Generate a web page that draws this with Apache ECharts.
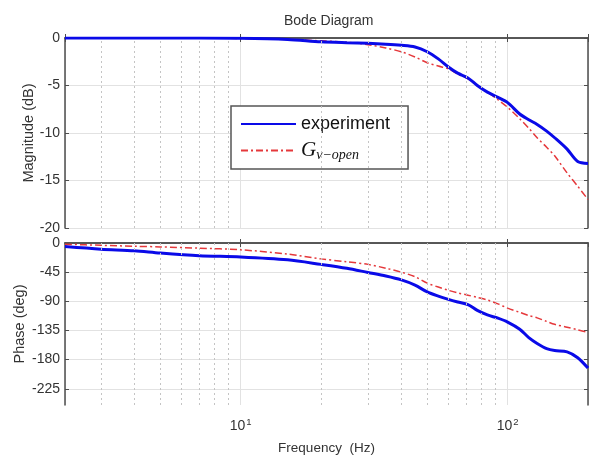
<!DOCTYPE html>
<html>
<head>
<meta charset="utf-8">
<script src="https://cdn.jsdelivr.net/npm/echarts@6/dist/echarts.min.js"></script>
<style>html,body{margin:0;padding:0;background:#fff}#c{width:590px;height:456px}</style>
</head>
<body>
<div id="c"></div>
<script>
// ---- data ----
const freq = [2.2, 3, 4, 5, 7, 10, 15, 20, 25, 30, 35, 40, 45, 50, 55, 60, 65, 71, 77, 84, 92, 100, 111, 120, 129, 140, 150, 167, 183, 200];
const magExperiment = [0, 0, 0, 0, 0, -0.02, -0.15, -0.4, -0.5, -0.56, -0.65, -0.77, -0.95, -1.45, -2.2, -3.05, -3.7, -4.2, -5.0, -5.7, -6.25, -6.8, -8.0, -8.6, -9.1, -9.8, -10.5, -11.7, -13.0, -13.2];
const magModel = [0, 0, 0, 0, 0, -0.05, -0.15, -0.3, -0.45, -0.7, -1.05, -1.45, -2.0, -2.6, -2.95, -3.25, -3.8, -4.3, -5.0, -5.7, -6.5, -7.3, -8.5, -9.5, -10.5, -11.5, -12.4, -14.2, -15.6, -17.0];
const phaseExperiment = [-5.5, -9.5, -12, -15.5, -19.5, -21.5, -26, -33, -39, -45.5, -51, -57, -65, -75.5, -82, -87, -91, -95, -104, -111, -116, -122, -133, -146, -155, -163, -166, -168, -177, -193];
const phaseModel = [-2, -3.5, -5, -6, -8, -10.5, -17, -24.5, -29, -33, -39, -45, -52, -62, -68, -73, -77, -80.5, -84, -88, -94, -100.5, -107, -112, -115.5, -121, -125.5, -130, -134, -138];
const minorFreqs = [3, 4, 5, 6, 7, 8, 9, 20, 30, 40, 50, 60, 70, 80, 90];
const magTicks = [0, -5, -10, -15, -20];
const phaseTicks = [0, -45, -90, -135, -180, -225];
const seriesNames = ['experiment', 'Gv-open'];

const pair = (xs, ys) => xs.map((x, i) => [x, ys[i]]);
const AX = '#4d4d4d', GRID = '#e2e2e2', TXT = '#333';
const BLUE = '#0a0ae8', RED = '#e5383b';
const font = 'Liberation Sans, Arial, sans-serif';

function xAx(grid, pos, labels) {
  return {
    type: 'log', logBase: 10, min: 2.2, max: 200, gridIndex: grid, position: pos,
    axisLine: { show: true, lineStyle: { color: AX, width: 1.5 } },
    axisTick: { show: true, inside: true, length: 4, lineStyle: { color: AX } },
    splitLine: { show: pos === 'bottom', lineStyle: { color: GRID, width: 1 } },
    axisLabel: labels ? {
      show: true, showMinLabel: false, showMaxLabel: false, margin: 12,
      formatter: v => { const e = Math.log10(v); return Math.abs(e - Math.round(e)) < 1e-6 ? '{b|10}{s|' + Math.round(e) + '}' : ''; },
      rich: { b: { fontSize: 14, color: TXT, fontFamily: font }, s: { fontSize: 9.5, color: TXT, fontFamily: font, padding: [0, 0, 8, 1] } }
    } : { show: false },
    name: labels ? 'Frequency  (Hz)' : '', nameLocation: 'middle', nameGap: 36,
    nameTextStyle: { fontSize: 13.5, color: TXT, fontFamily: font }
  };
}
function markMinor() {
  return {
    silent: true, symbol: 'none', animation: false,
    label: { show: false },
    lineStyle: { type: [2, 3], color: '#c4c4c4', width: 1 },
    data: minorFreqs.map(f => ({ xAxis: f }))
  };
}

const option = {
  animation: false,
  backgroundColor: '#fff',
  title: { text: 'Bode Diagram', left: 279, top: 9, textStyle: { fontSize: 14, fontWeight: 'normal', color: TXT, fontFamily: font } },
  legend: {
    orient: 'vertical', left: 231, top: 106, padding: [9, 18, 7, 9], itemGap: 7,
    itemWidth: 55, itemHeight: 14,
    backgroundColor: '#fff', borderColor: '#555', borderWidth: 1.5, borderRadius: 0,
    itemStyle: { color: 'transparent', borderColor: 'transparent', borderWidth: 0, opacity: 0 },
    data: seriesNames,
    formatter: n => n === 'Gv-open' ? '{g|G}{s|v\u2212open}' : '{e|' + n + '}',
    textStyle: {
      rich: {
        e: { fontSize: 18, color: '#111', fontFamily: font, lineHeight: 22 },
        g: { fontSize: 21, fontStyle: 'italic', color: '#111', fontFamily: 'Liberation Serif, serif', lineHeight: 22 },
        s: { fontSize: 14, fontStyle: 'italic', color: '#111', fontFamily: 'Liberation Serif, serif', padding: [9, 0, 0, 0] }
      }
    }
  },
  grid: [
    { left: 65, right: 2, top: 38, height: 190 },
    { left: 65, right: 2, top: 243, height: 166 }
  ],
  xAxis: [xAx(0, 'bottom', false), xAx(0, 'top', false), xAx(1, 'bottom', true), xAx(1, 'top', false)],
  yAxis: [
    {
      type: 'value', gridIndex: 0, min: -20, max: 0, interval: 5, position: 'left',
      axisLine: { show: true, lineStyle: { color: AX, width: 1.5 } },
      axisTick: { show: true, inside: true, length: 4, lineStyle: { color: AX } },
      splitLine: { show: true, lineStyle: { color: GRID } },
      axisLabel: { fontSize: 14, color: TXT, fontFamily: font, margin: 5 },
      name: 'Magnitude (dB)', nameLocation: 'middle', nameGap: 29, nameRotate: 90, nameMoveOverlap: false,
      nameTextStyle: { fontSize: 14.5, color: TXT, fontFamily: font }
    },
    {
      type: 'value', gridIndex: 0, min: -20, max: 0, interval: 5, position: 'right',
      axisLine: { show: true, lineStyle: { color: AX, width: 1.5 } },
      axisTick: { show: true, inside: true, length: 4, lineStyle: { color: AX } },
      splitLine: { show: false }, axisLabel: { show: false }
    },
    {
      type: 'value', gridIndex: 1, min: -250, max: 0, position: 'left',
      axisLine: { show: true, lineStyle: { color: AX, width: 1.5 } },
      axisTick: { show: true, inside: true, length: 4, lineStyle: { color: AX }, customValues: phaseTicks },
      splitLine: { show: true, lineStyle: { color: GRID } },
      axisLabel: { fontSize: 14, color: TXT, fontFamily: font, margin: 5, customValues: phaseTicks },
      name: 'Phase (deg)', nameLocation: 'middle', nameGap: 38, nameRotate: 90, nameMoveOverlap: false,
      nameTextStyle: { fontSize: 14.5, color: TXT, fontFamily: font }
    },
    {
      type: 'value', gridIndex: 1, min: -250, max: 0, position: 'right',
      axisLine: { show: true, lineStyle: { color: AX, width: 1.5 } },
      axisTick: { show: true, inside: true, length: 4, lineStyle: { color: AX }, customValues: phaseTicks },
      splitLine: { show: false }, axisLabel: { show: false }
    }
  ],
  series: [
    {
      name: 'Gv-open', type: 'line', xAxisIndex: 0, yAxisIndex: 0, data: pair(freq, magModel),
      symbol: 'none', smooth: 0.3, lineStyle: { color: RED, width: 1.5, type: [7, 3, 2, 3] }, itemStyle: { color: RED },
      markLine: markMinor(), z: 3
    },
    {
      name: 'experiment', type: 'line', xAxisIndex: 0, yAxisIndex: 0, data: pair(freq, magExperiment),
      symbol: 'none', smooth: 0.3, lineStyle: { color: BLUE, width: 3 }, itemStyle: { color: BLUE }, z: 4
    },
    {
      name: 'experiment', type: 'line', xAxisIndex: 2, yAxisIndex: 2, data: pair(freq, phaseExperiment),
      symbol: 'none', smooth: 0.3, lineStyle: { color: BLUE, width: 3 }, itemStyle: { color: BLUE },
      markLine: markMinor(), z: 3
    },
    {
      name: 'Gv-open', type: 'line', xAxisIndex: 2, yAxisIndex: 2, data: pair(freq, phaseModel),
      symbol: 'none', smooth: 0.3, lineStyle: { color: RED, width: 1.5, type: [7, 3, 2, 3] }, itemStyle: { color: RED }, z: 4
    }
  ]
};
const chart = echarts.init(document.getElementById('c'), null, { renderer: 'canvas' });
chart.setOption(option);
</script>
</body>
</html>
